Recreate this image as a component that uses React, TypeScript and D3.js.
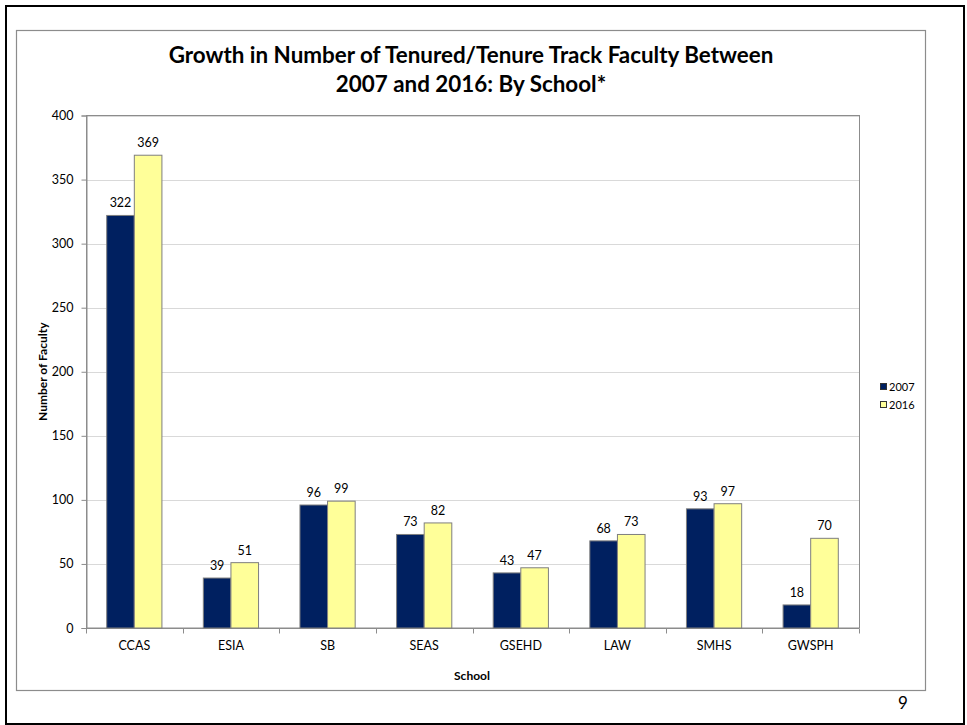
import { useEffect, useRef } from 'react'
import * as d3 from 'd3'

const schools = ['CCAS', 'ESIA', 'SB', 'SEAS', 'GSEHD', 'LAW', 'SMHS', 'GWSPH']
const years = ['2007', '2016']
const faculty2007 = [322, 39, 96, 73, 43, 68, 93, 18]
const faculty2016 = [369, 51, 99, 82, 47, 73, 97, 70]
const yTicks = [0, 50, 100, 150, 200, 250, 300, 350, 400]

const COLORS = ['#002060', '#FFFF99']
const FONT = 'Lato, "Open Sans", sans-serif'

export default function App() {
  const ref = useRef<SVGSVGElement>(null)

  useEffect(() => {
    document.body.style.margin = '0'
    const el = ref.current
    if (!el) return
    const svg = d3.select(el)
    svg.selectAll('*').remove()

    const W = 967
    const H = 725
    const plot = { left: 86, top: 115.5, right: 859, bottom: 628 }

    svg.append('rect').attr('width', W).attr('height', H).attr('fill', '#fff')

    // slide frame + chart frame
    svg.append('rect')
      .attr('x', 6).attr('y', 6).attr('width', 958).attr('height', 718)
      .attr('fill', 'none').attr('stroke', '#000').attr('stroke-width', 2)
    svg.append('rect')
      .attr('x', 16.5).attr('y', 30.5).attr('width', 909).attr('height', 660)
      .attr('fill', 'none').attr('stroke', '#8c8c8c').attr('stroke-width', 1.2)

    const x = d3.scaleBand().domain(schools).range([plot.left, plot.right]).paddingInner(0).paddingOuter(0)
    const inner = d3.scaleBand().domain(years).range([0, x.bandwidth()]).paddingInner(0).paddingOuter(0.75)
    const y = d3.scaleLinear().domain([0, 400]).range([plot.bottom, plot.top])

    // gridlines
    svg.append('g')
      .selectAll('line')
      .data(yTicks.filter((t) => t > 0))
      .join('line')
      .attr('x1', plot.left).attr('x2', plot.right)
      .attr('y1', (d) => Math.round(y(d)) + 0.5).attr('y2', (d) => Math.round(y(d)) + 0.5)
      .attr('stroke', '#d9d9d9')

    // plot border
    svg.append('rect')
      .attr('x', plot.left + 0.5).attr('y', plot.top)
      .attr('width', plot.right - plot.left).attr('height', plot.bottom - plot.top)
      .attr('fill', 'none').attr('stroke', '#8c8c8c')

    // y axis
    svg.append('g')
      .attr('transform', `translate(${plot.left + 0.5},0)`)
      .call(d3.axisLeft(y).tickValues(yTicks).tickSize(5).tickPadding(8))
      .call((s) => s.select('.domain').attr('stroke', '#8c8c8c'))
      .call((s) => s.selectAll('line').attr('stroke', '#8c8c8c'))
      .call((s) => s.selectAll('text').attr('fill', '#000').style('font-family', FONT).style('font-size', '12.5px'))

    // x axis
    const xAxis = svg.append('g').attr('transform', `translate(0,${plot.bottom + 0.5})`)
    xAxis.append('line').attr('x1', plot.left).attr('x2', plot.right).attr('stroke', '#8c8c8c')
    xAxis.selectAll('line.tick')
      .data(d3.range(schools.length + 1))
      .join('line')
      .attr('class', 'tick')
      .attr('x1', (i) => Math.round(plot.left + i * x.step()) + 0.5)
      .attr('x2', (i) => Math.round(plot.left + i * x.step()) + 0.5)
      .attr('y1', 0).attr('y2', 5)
      .attr('stroke', '#8c8c8c')
    xAxis.selectAll('text')
      .data(schools)
      .join('text')
      .attr('x', (d) => (x(d) || 0) + x.bandwidth() / 2)
      .attr('y', 21)
      .attr('text-anchor', 'middle')
      .style('font-family', FONT).style('font-size', '12.5px')
      .text((d) => d)

    // bars
    const series = [faculty2007, faculty2016]
    years.forEach((yr, si) => {
      const g = svg.append('g')
      const rows = schools.map((s, i) => ({ s, v: series[si][i] }))
      g.selectAll('rect')
        .data(rows)
        .join('rect')
        .attr('x', (d) => (x(d.s) || 0) + (inner(yr) || 0))
        .attr('y', (d) => y(d.v))
        .attr('width', inner.bandwidth())
        .attr('height', (d) => plot.bottom - y(d.v))
        .attr('fill', COLORS[si])
        .attr('stroke', '#7f7f7f')
        .attr('stroke-width', 1)
      g.selectAll('text')
        .data(rows)
        .join('text')
        .attr('x', (d) => (x(d.s) || 0) + (inner(yr) || 0) + inner.bandwidth() / 2)
        .attr('y', (d) => y(d.v) - 8)
        .attr('text-anchor', 'middle')
        .style('font-family', FONT).style('font-size', '12.5px')
        .text((d) => d.v)
    })

    // legend
    const legend = svg.append('g').attr('transform', 'translate(880,383)')
    years.forEach((yr, i) => {
      legend.append('rect')
        .attr('x', 0.5).attr('y', i * 18 + 0.5).attr('width', 6).attr('height', 6)
        .attr('fill', COLORS[i]).attr('stroke', '#333')
      legend.append('text')
        .attr('x', 9).attr('y', i * 18 + 7.5)
        .style('font-family', FONT).style('font-size', '11px')
        .text(yr)
    })

    // titles
    const title = svg.append('text')
      .attr('text-anchor', 'middle')
      .style('font-family', FONT).style('font-size', '22.4px').style('font-weight', '700')
    title.append('tspan').attr('x', 471).attr('y', 63).text('Growth in Number of Tenured/Tenure Track Faculty Between')
    title.append('tspan').attr('x', 471).attr('y', 92).text('2007 and 2016: By School*')

    svg.append('text')
      .attr('transform', `translate(47,${(plot.top + plot.bottom) / 2}) rotate(-90)`)
      .attr('text-anchor', 'middle')
      .style('font-family', FONT).style('font-size', '12px').style('font-weight', '700')
      .text('Number of Faculty')

    svg.append('text')
      .attr('x', 472).attr('y', 680)
      .attr('text-anchor', 'middle')
      .style('font-family', FONT).style('font-size', '12px').style('font-weight', '700')
      .text('School')

    svg.append('text')
      .attr('x', 903).attr('y', 709)
      .attr('text-anchor', 'middle')
      .style('font-family', FONT).style('font-size', '17px')
      .text('9')
  }, [])

  return <svg ref={ref} width={967} height={725} style={{ display: 'block' }} />
}
